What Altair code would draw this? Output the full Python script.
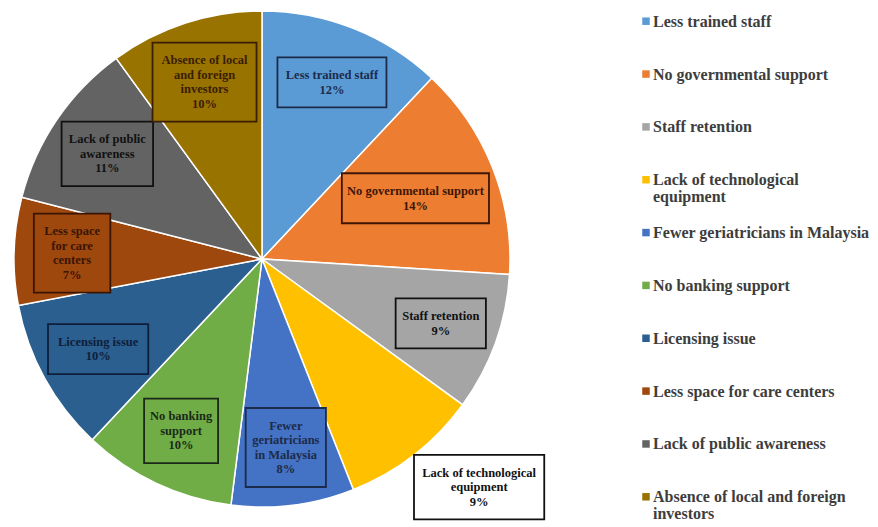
import math
import altair as alt
import pandas as pd

# ---------------- data ----------------
categories = [
    "Less trained staff",
    "No governmental support",
    "Staff retention",
    "Lack of technological equipment",
    "Fewer geriatricians in Malaysia",
    "No banking support",
    "Licensing issue",
    "Less space for care centers",
    "Lack of public awareness",
    "Absence of local and foreign investors",
]
values = [12, 14, 9, 9, 8, 10, 10, 7, 11, 10]
# slice label wording (line breaks as on the chart)
slice_label_lines = [
    ["Less trained staff"],
    ["No governmental support"],
    ["Staff retention"],
    ["Lack of technological", "equipment"],
    ["Fewer", "geriatricians", "in Malaysia"],
    ["No banking", "support"],
    ["Licensing issue"],
    ["Less space", "for care", "centers"],
    ["Lack of public", "awareness"],
    ["Absence of local", "and foreign", "investors"],
]
legend_label_lines = [
    ["Less trained staff"],
    ["No governmental support"],
    ["Staff retention"],
    ["Lack of technological", "equipment"],
    ["Fewer geriatricians in Malaysia"],
    ["No banking support"],
    ["Licensing issue"],
    ["Less space for care centers"],
    ["Lack of public awareness"],
    ["Absence of local and foreign", "investors"],
]

# ---------------- styles / layout ----------------
slice_colors = ["#5B9BD5", "#ED7D31", "#A5A5A5", "#FFC000", "#4472C4",
                "#70AD47", "#2A5F8F", "#9E480E", "#636363", "#997300"]
label_ink = ["#1C2B4A", "#3E1606", "#111111", "#111111", "#1C2B4A",
             "#1B2A18", "#0F1E3A", "#3A1505", "#111111", "#3A1E05"]
placement = ["in", "in", "in", "out", "in", "in", "in", "in", "in", "in"]

W, H = 570, 511          # pie panel
CX, CY = 254, 251        # pie centre inside the panel
R = 248
LABEL_R = 190
FS = 12.5
LH = 14.5


def text_w(s, fs):
    w = 0.0
    for ch in s:
        if ch in "ilfjtr .,'":
            w += 0.30
        elif ch in "mwMW%":
            w += 0.85
        elif ch.isupper():
            w += 0.70
        else:
            w += 0.50
    return w * fs


rows = []
cum = 0.0
total = float(sum(values))
for i, (cat, v) in enumerate(zip(categories, values)):
    a0 = cum / total * 2 * math.pi
    cum += v
    a1 = cum / total * 2 * math.pi
    mid = (a0 + a1) / 2
    lines = slice_label_lines[i] + [f"{v}%"]
    bw = max(text_w(l, FS) for l in lines) + 14
    bh = len(lines) * LH + 21
    s, c = math.sin(mid), math.cos(mid)
    if placement[i] == "in":
        r = LABEL_R
        while r > 40:
            px, py = CX + r * s, CY - r * c
            corners = [(px + dx, py + dy) for dx in (-bw / 2, bw / 2) for dy in (-bh / 2, bh / 2)]
            if all(math.hypot(x - CX, y - CY) <= R - 5 for x, y in corners):
                break
            r -= 1
        fill = slice_colors[i]
    else:
        ex, ey = CX + R * s, CY - R * c
        px = ex + (1 if s >= 0 else -1) * bw / 2
        py = ey + (1 if c <= 0 else -1) * bh / 2
        fill = "#FFFFFF"
    rows.append(dict(cat=cat, x=px, y=py, ty=py - (len(lines) - 1) * LH / 2,
                     x1=px - bw / 2, x2=px + bw / 2,
                     y1=py - bh / 2, y2=py + bh / 2, text="\n".join(lines),
                     fill=fill, ink=label_ink[i]))

lab_df = pd.DataFrame(rows)
pie_df = pd.DataFrame({"cat": categories, "value": values,
                       "idx": list(range(len(values))), "color": slice_colors})
leg_df = pd.DataFrame({"cat": categories, "color": slice_colors,
                       "text": ["\n".join(l) for l in legend_label_lines]})

xs = alt.Scale(domain=[0, W], nice=False, zero=False)
ys = alt.Scale(domain=[0, H], nice=False, zero=False, reverse=True)

pie = alt.Chart(pie_df).mark_arc(radius=R, stroke="white", strokeWidth=1.5).encode(
    theta=alt.Theta("value:Q", stack=True),
    fill=alt.Fill("color:N", scale=None),
    order=alt.Order("idx:Q"),
    x=alt.value(CX),
    y=alt.value(CY),
)

boxes = alt.Chart(lab_df).mark_rect(strokeWidth=1.8).encode(
    x=alt.X("x1:Q", scale=xs, axis=None), x2="x2:Q",
    y=alt.Y("y1:Q", scale=ys, axis=None), y2="y2:Q",
    fill=alt.Fill("fill:N", scale=None),
    stroke=alt.Stroke("ink:N", scale=None),
)

texts = alt.Chart(lab_df).mark_text(
    font="Liberation Serif", fontWeight="bold", fontSize=FS, lineBreak="\n",
    lineHeight=LH, align="center", baseline="middle",
).encode(
    x=alt.X("x:Q", scale=xs, axis=None),
    y=alt.Y("ty:Q", scale=ys, axis=None),
    text="text:N",
    fill=alt.Fill("ink:N", scale=None),
)

pie_panel = alt.layer(pie, boxes, texts).properties(width=W, height=H)

ly = alt.Y("cat:N", scale=alt.Scale(domain=categories, padding=0.25), axis=None)
leg_sq = alt.Chart(leg_df).mark_square(size=56, opacity=1).encode(
    x=alt.value(68), y=ly, fill=alt.Fill("color:N", scale=None),
)
leg_tx = alt.Chart(leg_df).mark_text(
    align="left", baseline="alphabetic", dy=5.5, font="Liberation Serif",
    fontSize=16, fontWeight="bold", lineBreak="\n", lineHeight=17, color="#3d3d3d",
).encode(x=alt.value(75), y=ly, text="text:N")
legend_panel = alt.layer(leg_sq, leg_tx).properties(width=292, height=502)

chart = alt.hconcat(pie_panel, legend_panel, spacing=0).properties(
    padding={"left": 0, "top": 0, "right": 0, "bottom": 0},
    bounds="flush",
).configure_view(stroke=None)

chart.save("out.html", embed_options={"renderer": "svg", "actions": False})
